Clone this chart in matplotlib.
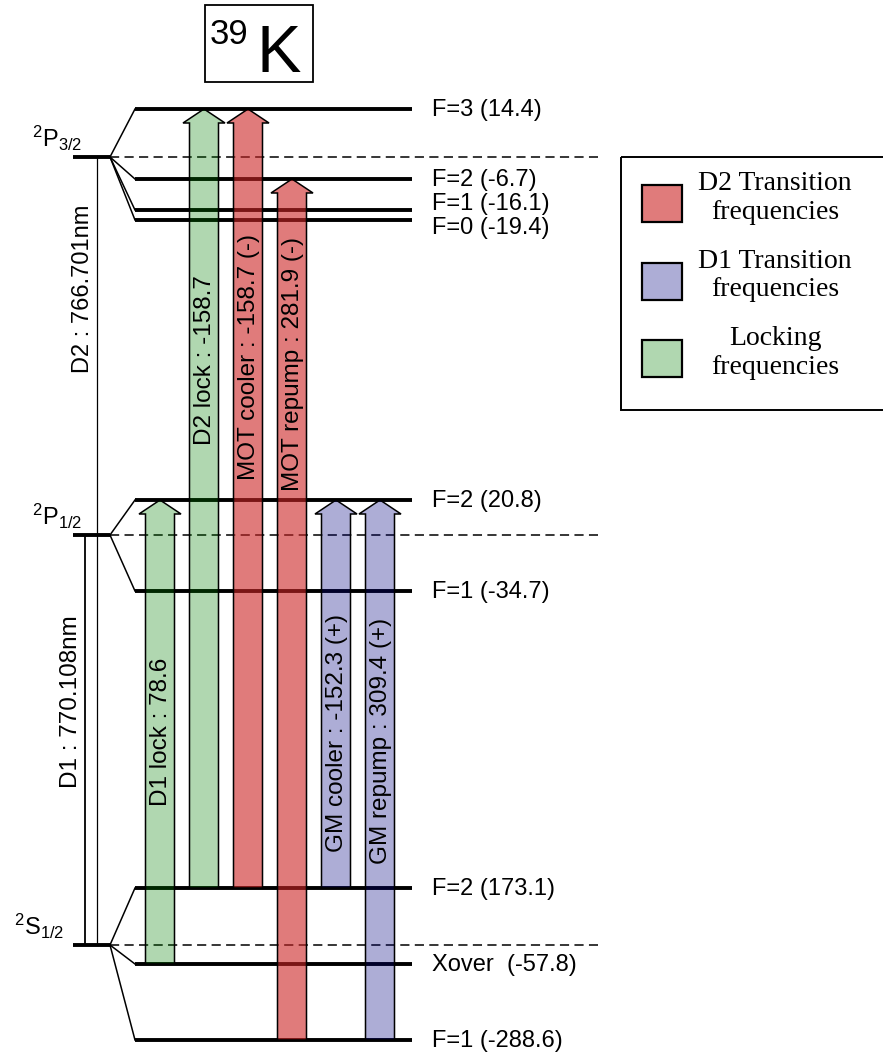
import matplotlib.pyplot as plt
from matplotlib.patches import FancyArrow, Rectangle

plt.rcParams['font.family'] = ['Liberation Sans', 'DejaVu Sans']
plt.rcParams['mathtext.fontset'] = 'custom'
plt.rcParams['mathtext.rm'] = 'Liberation Sans'
plt.rcParams['mathtext.it'] = 'Liberation Sans:italic'

# --- data ---
isotope_mass = '39'
isotope_symbol = 'K'

terms = ['P3/2', 'P1/2', 'S1/2']
term_labels = [r'$^2$P$_{3/2}$', r'$^2$P$_{1/2}$', r'$^2$S$_{1/2}$']

p32_names = ['F=3', 'F=2', 'F=1', 'F=0']
p32_shifts = [14.4, -6.7, -16.1, -19.4]
p12_names = ['F=2', 'F=1']
p12_shifts = [20.8, -34.7]
s12_names = ['F=2', 'Xover', 'F=1']
s12_shifts = [173.1, -57.8, -288.6]

line_names = ['D2', 'D1']
line_wavelengths = ['766.701nm', '770.108nm']

beam_names = ['D1 lock', 'D2 lock', 'MOT cooler', 'MOT repump', 'GM cooler', 'GM repump']
beam_values = [78.6, -158.7, -158.7, 281.9, -152.3, 309.4]
beam_signs = ['', '', '(-)', '(-)', '(+)', '(+)']
beam_group = ['lock', 'lock', 'D2', 'D2', 'D1', 'D1']
beam_lower = [('S1/2', 'Xover'), ('S1/2', 'F=2'), ('S1/2', 'F=2'),
              ('S1/2', 'F=1'), ('S1/2', 'F=2'), ('S1/2', 'F=1')]
beam_upper = [('P1/2', 'F=2'), ('P3/2', 'F=3'), ('P3/2', 'F=3'),
              ('P3/2', 'F=2'), ('P1/2', 'F=2'), ('P1/2', 'F=2')]

legend_groups = ['D2', 'D1', 'lock']
legend_texts = ['D2 Transition\nfrequencies', 'D1 Transition\nfrequencies',
                'Locking\nfrequencies']

# --- layout (schematic pixel positions, not to scale) ---
term_y = {'P3/2': 157, 'P1/2': 535, 'S1/2': 945}
sub_y = {'P3/2': [109, 179, 210, 220],
         'P1/2': [500, 591],
         'S1/2': [888, 964, 1040]}
# label heights where the lines sit too close together
label_y = {'P3/2': [110, 180, 204, 228],
           'P1/2': [501, 592],
           'S1/2': [889, 965, 1041]}
colors = {'D2': (0.80, 0.14, 0.14, 0.6),
          'D1': (0.0, 0.0, 0.5, 0.32),
          'lock': (0.0, 0.5, 0.0, 0.31)}

levels = {'P3/2': (p32_names, p32_shifts),
          'P1/2': (p12_names, p12_shifts),
          'S1/2': (s12_names, s12_shifts)}

fig = plt.figure(figsize=(8.83, 10.57), dpi=100)
ax = fig.add_axes([0, 0, 1, 1])
ax.set_xlim(0, 883)
ax.set_ylim(1057, 0)
ax.axis('off')

# title box
ax.add_patch(Rectangle((205, 5), 108, 77, fill=False, lw=1.3, ec='black'))
ax.text(210, 44, isotope_mass, fontsize=25, ha='left', va='baseline')
ax.text(257, 72, isotope_symbol, fontsize=48, ha='left', va='baseline')

# levels
label_x = {'P3/2': 82, 'P1/2': 82, 'S1/2': 64}
for term, tlabel in zip(terms, term_labels):
    y0 = term_y[term]
    ax.plot([73, 110], [y0, y0], c='black', lw=2.8, solid_capstyle='butt', zorder=1)
    ax.plot([110, 598], [y0, y0], c='black', lw=1.1, ls=(0, (6, 3.5)), zorder=1)
    ax.text(label_x[term], y0 - 4, tlabel, fontsize=17, ha='right', va='bottom')
    names, shifts = levels[term]
    for name, shift, y, ly in zip(names, shifts, sub_y[term], label_y[term]):
        ax.plot([110, 135], [y0, y], c='black', lw=1.1, zorder=1)
        ax.plot([135, 412], [y, y], c='black', lw=2.8, solid_capstyle='butt', zorder=1)
        gap = '  ' if name == 'Xover' else ' '
        ax.text(432, ly, f'{name}{gap}({shift})', fontsize=17, ha='left', va='center')

# wavelength bars
ax.plot([97, 97], [term_y['P3/2'], term_y['S1/2']], c='black', lw=0.9, zorder=1)
ax.plot([85, 85], [term_y['P1/2'], term_y['S1/2']], c='black', lw=1.3, zorder=1)
ax.text(83, 289, f'{line_names[0]} : {line_wavelengths[0]}', fontsize=17,
        rotation=90, ha='center', va='center')
ax.text(71, 702, f'{line_names[1]} : {line_wavelengths[1]}', fontsize=17.5,
        rotation=90, ha='center', va='center')


def level_y(key):
    term, name = key
    return sub_y[term][levels[term][0].index(name)]


# transition arrows
xs = [160, 204, 248, 292, 336, 380]
text_y = [732, 360, 357, 364, 733, 741]
for i, name in enumerate(beam_names):
    y_lo = level_y(beam_lower[i])
    y_hi = level_y(beam_upper[i])
    arr = FancyArrow(xs[i], y_lo, 0, y_hi - y_lo, width=29, head_width=42,
                     head_length=14, length_includes_head=True,
                     fc=colors[beam_group[i]], ec='black', lw=1.1, zorder=2)
    ax.add_patch(arr)
    label = f'{name} : {beam_values[i]}'
    if beam_signs[i]:
        label += f' {beam_signs[i]}'
    ax.text(xs[i] + 1, text_y[i], label, fontsize=17.5, rotation=90,
            ha='center', va='center', zorder=3)

# legend
ax.add_patch(Rectangle((621, 157), 270, 253, fill=False, lw=1.4, ec='black'))
for j, (grp, txt) in enumerate(zip(legend_groups, legend_texts)):
    top = 185 + j * 77.5
    ax.add_patch(Rectangle((642, top), 40, 37, fc=colors[grp], ec='black', lw=1.6))
    ax.text(775, top + 13, txt, fontsize=20, family='Liberation Serif',
            ha='center', va='center', linespacing=1.2)

fig.savefig('out.png', dpi=100)
